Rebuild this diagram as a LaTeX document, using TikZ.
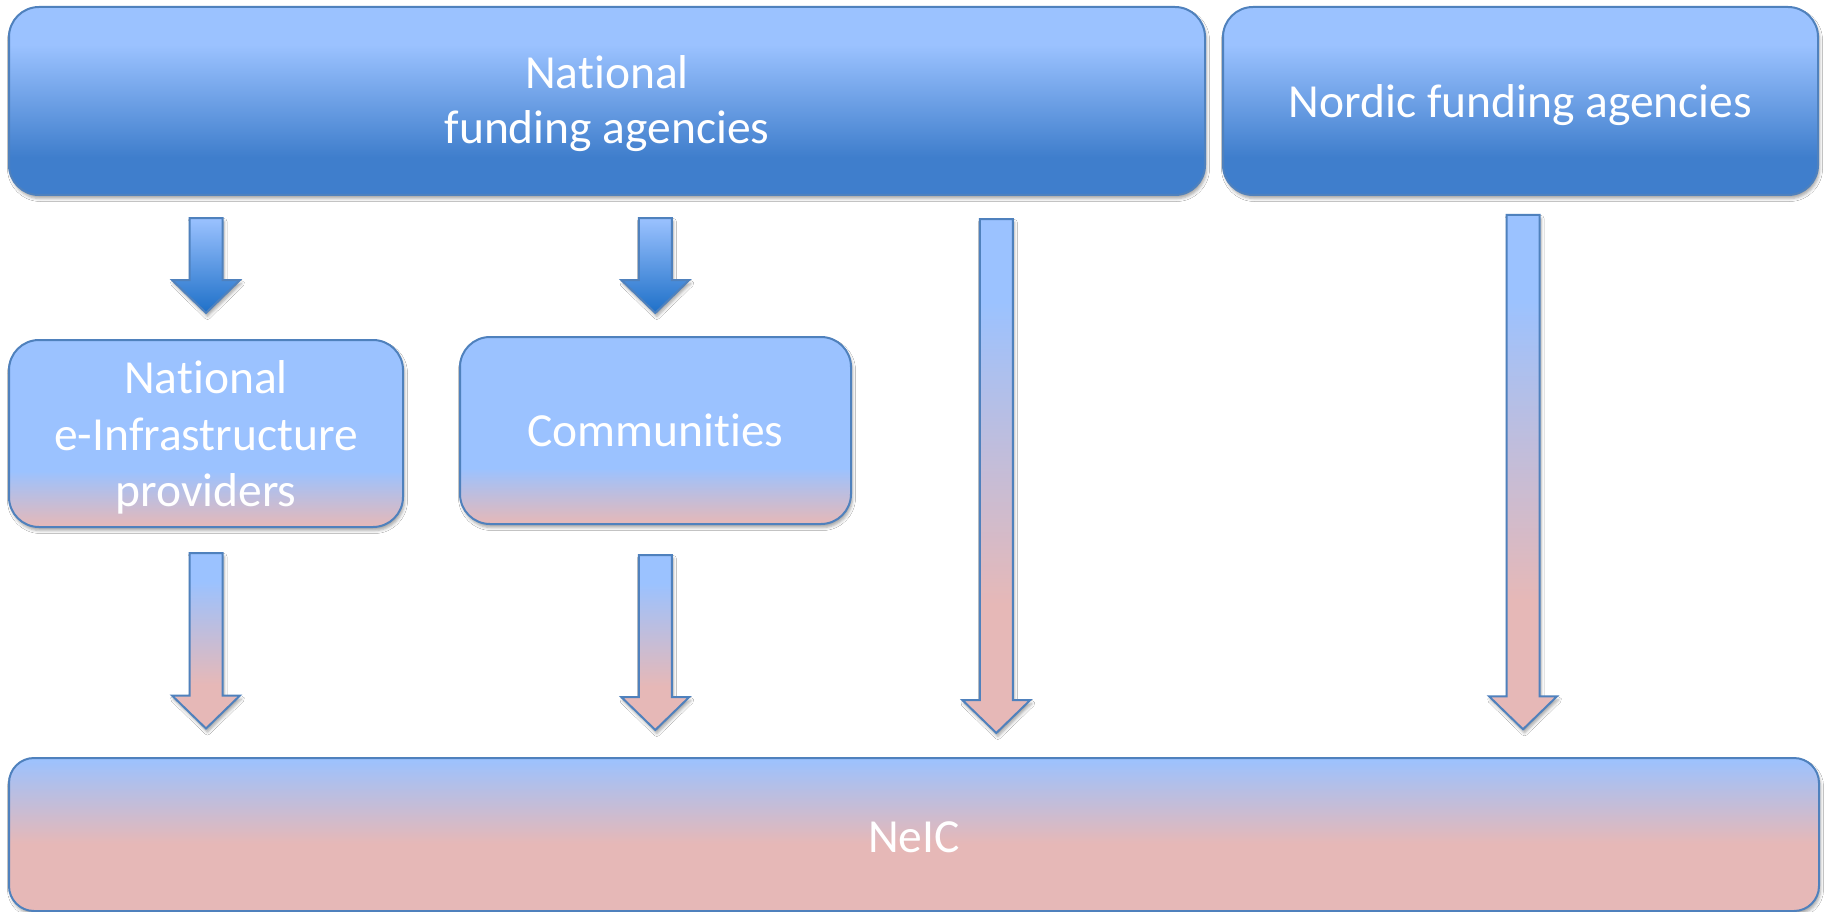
\documentclass[tikz,border=0pt]{standalone}
\usepackage{fontspec}
\setmainfont{Carlito}[Ligatures={NoCommon}]
\usetikzlibrary{shadows.blur,calc}
\definecolor{bd}{RGB}{79,129,189}
\pgfdeclareverticalshading{topbox}{100bp}{rgb(0bp)=(0.247,0.494,0.800); rgb(35bp)=(0.247,0.494,0.800); rgb(65bp)=(0.608,0.761,1); rgb(100bp)=(0.608,0.761,1)}
\pgfdeclareverticalshading{midbox}{100bp}{rgb(0bp)=(0.902,0.722,0.718); rgb(25bp)=(0.902,0.722,0.718); rgb(40bp)=(0.608,0.761,1); rgb(100bp)=(0.608,0.761,1)}
\pgfdeclareverticalshading{lowbox}{100bp}{rgb(0bp)=(0.902,0.722,0.718); rgb(47bp)=(0.902,0.722,0.718); rgb(75bp)=(0.608,0.761,1); rgb(100bp)=(0.608,0.761,1)}
\pgfdeclareverticalshading{arrowpink}{100bp}{rgb(0bp)=(0.902,0.722,0.718); rgb(37.5bp)=(0.902,0.722,0.718); rgb(67bp)=(0.608,0.761,1); rgb(100bp)=(0.608,0.761,1)}
\pgfdeclareverticalshading{arrowblue}{100bp}{rgb(0bp)=(0.118,0.439,0.784); rgb(25bp)=(0.118,0.439,0.784); rgb(75bp)=(0.608,0.761,1); rgb(100bp)=(0.608,0.761,1)}
\tikzset{
  shad/.style={blur shadow={shadow xshift=1.5pt, shadow yshift=-3.5pt, shadow blur radius=3pt, shadow opacity=35}},
  boxbase/.style={rectangle, draw=bd, line width=2pt, inner sep=0pt, shad},
  topbx/.style={boxbase, rounded corners=30pt, shading=topbox, shade},
  midbx/.style={boxbase, rounded corners=30pt, shading=midbox, shade},
  lowbx/.style={boxbase, rounded corners=25pt, shading=lowbox, shade},
  txt/.style={anchor=base, text=white, inner sep=0pt, font=\fontsize{47.5}{56}\selectfont},
  arrbase/.style={draw=bd, line width=2pt, line join=miter, shad},
}
\newcommand\blockarrow[3]{%
  \shadedraw[arrbase, shading=#3] let \p1=(#1), \p2=(#2) in
    ({\x1-16.5pt},{\y1}) -- ({\x1+16.5pt},{\y1}) -- ({\x1+16.5pt},{\y2+33pt})
    -- ({\x1+34pt},{\y2+33pt}) -- ({\x2},{\y2}) -- ({\x1-34pt},{\y2+33pt})
    -- ({\x1-16.5pt},{\y2+33pt}) -- cycle;}
\begin{document}
\begin{tikzpicture}[x=1pt,y=-1pt]
\path[fill=white] (0,0) rectangle (1825,912);
\useasboundingbox (0,0) rectangle (1825,912);

% boxes
\node[topbx, minimum width=1196pt, minimum height=188pt] (nat) at (607,101) {};
\node[topbx, minimum width=595pt, minimum height=188pt] (nord) at (1520.5,101) {};
\node[midbx, minimum width=394pt, minimum height=187pt] (nei) at (206,433.5) {};
\node[midbx, minimum width=391pt, minimum height=187pt] (comm) at (655.5,430.5) {};
\node[lowbx, minimum width=1810pt, minimum height=153pt] (neic) at (914,834.5) {};

% texts
\node[txt] (nat1) at (607,88.3) {National};
\node[txt] (nat2) at (607,143.3) {funding agencies};
\node[txt] (nord1) at (1520.5,118) {Nordic funding agencies};
\node[txt] (nei1) at (206,393.3) {National};
\node[txt] (nei2) at (206,450) {e-Infrastructure};
\node[txt] (nei3) at (206,506.7) {providers};
\node[txt] (comm1) at (655.5,446.7) {Communities};
\node[txt] (neic1) at (914,852) {NeIC};

% arrow end points
\coordinate (a1s) at (206,218);   \coordinate (a1e) at (206,313);
\coordinate (a2s) at (655.3,218); \coordinate (a2e) at (655.3,313);
\coordinate (a3s) at (206,553);   \coordinate (a3e) at (206,728.5);
\coordinate (a4s) at (655.3,555); \coordinate (a4e) at (655.3,730);
\coordinate (a5s) at (996.3,219); \coordinate (a5e) at (996.3,733);
\coordinate (a6s) at (1523,215);  \coordinate (a6e) at (1523,729.3);

% arrows
\blockarrow{a1s}{a1e}{arrowblue}
\blockarrow{a2s}{a2e}{arrowblue}
\blockarrow{a3s}{a3e}{arrowpink}
\blockarrow{a4s}{a4e}{arrowpink}
\blockarrow{a5s}{a5e}{arrowpink}
\blockarrow{a6s}{a6e}{arrowpink}
\end{tikzpicture}
\end{document}
